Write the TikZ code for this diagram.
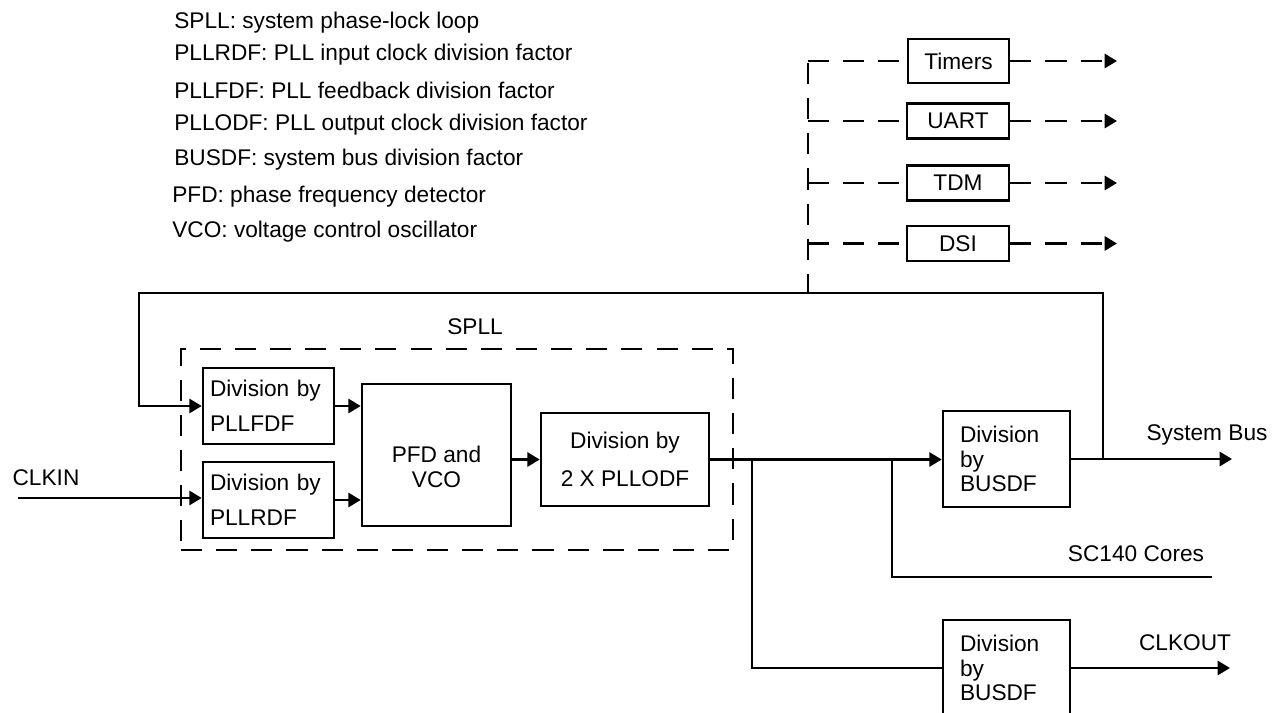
\documentclass[tikz,border=0pt]{standalone}
\usepackage{fontspec}
\setmainfont{Liberation Sans}
\usetikzlibrary{arrows.meta}

\tikzset{
  blk/.style={draw, line width=1.5pt, inner sep=0pt},
  dline/.style={line width=1.5pt, dash pattern=on 12pt off 8pt},
  arr/.style={-{Triangle[length=7pt,width=8pt]}},
  lbl/.style={inner sep=0pt}
}

\begin{document}
\begin{tikzpicture}[x=0.02cm, y=-0.02cm, line width=1.5pt,
  every node/.style={font=\fontsize{12.9}{15}\selectfont}]

\useasboundingbox (0,0) rectangle (1278,713);

% legend
\node [lbl, anchor=west] (leg1) at (173,23) {SPLL: system phase-lock loop};
\node [lbl, anchor=west] (leg2) at (173,55) {PLLRDF: PLL input clock division factor};
\node [lbl, anchor=west] (leg3) at (173,90) {PLLFDF: PLL feedback division factor};
\node [lbl, anchor=west] (leg4) at (173,125) {PLLODF: PLL output clock division factor};
\node [lbl, anchor=west] (leg5) at (173,160) {BUSDF: system bus division factor};
\node [lbl, anchor=west] (leg6) at (171,197) {PFD: phase frequency detector};
\node [lbl, anchor=west] (leg7) at (171,232) {VCO: voltage control oscillator};

% SPLL
\node [dline, draw, minimum width=11.04cm, minimum height=4.02cm] (spll) at (457,449.5) {};
\node [lbl] (splllbl) at (475,327) {SPLL};

\node [blk, minimum width=2.62cm, minimum height=1.52cm, text width=2.34cm, align=left,
  font=\fontsize{12.9}{19.8}\selectfont] (fdf) at (268.5,406) {Division by\\PLLFDF};
\node [blk, minimum width=2.62cm, minimum height=1.52cm, text width=2.34cm, align=left,
  font=\fontsize{12.9}{19.8}\selectfont] (rdf) at (268.5,500) {Division by\\PLLRDF};
\node [blk, minimum width=2.98cm, minimum height=2.84cm, align=center, text height=37.5pt,
  font=\fontsize{12.9}{14.7}\selectfont] (pfd) at (436.5,455) {PFD and\\VCO};
\node [blk, minimum width=3.36cm, minimum height=1.86cm, align=center,
  font=\fontsize{12.9}{21.5}\selectfont] (odf) at (625,459.5) {Division by\\2 X PLLODF};

% bus dividers
\node [blk, minimum width=2.54cm, minimum height=1.92cm, text width=1.86cm, align=left,
  font=\fontsize{12.9}{14}\selectfont] (bus1) at (1006.5,459) {Division\\by\\BUSDF};
\node [blk, minimum width=2.54cm, minimum height=1.92cm, text width=1.86cm, align=left,
  font=\fontsize{12.9}{14}\selectfont] (bus2) at (1006.5,668) {Division\\by\\BUSDF};

% peripherals
\node [blk, minimum width=2.02cm, minimum height=0.88cm] (timers) at (958.5,61) {Timers};
\node [blk, minimum width=2.04cm, minimum height=0.70cm] (uart) at (958,121) {UART};
\node [blk, minimum width=2.04cm, minimum height=0.70cm] (tdm) at (958,183) {TDM};
\node [blk, minimum width=2.04cm, minimum height=0.70cm] (dsi) at (958,243.5) {DSI};

\node [lbl] (clkinlbl) at (46,478) {CLKIN};
\node [lbl] (sysbuslbl) at (1207,435) {System Bus};
\node [lbl] (coreslbl) at (1136,554) {SC140 Cores};
\node [lbl] (clkoutlbl) at (1185,643) {CLKOUT};

\coordinate (clkin) at (18,498);
\coordinate (br1) at (752,459.5);
\coordinate (br2) at (892,459.5);
\coordinate (cores) at (1212,577);
\coordinate (sysbus) at (1232,459);
\coordinate (clkout) at (1230,668);
\coordinate (fbA) at (1103,459);
\coordinate (fbB) at (139,293);
\coordinate (ptop) at (808,63);
\coordinate (pbot) at (808,293);
\coordinate (ptip) at (1117,0);

\draw [arr] (clkin) -- (clkin -| rdf.west);
\draw [arr] (fdf.east) -- (fdf.east -| pfd.west);
\draw [arr] (rdf.east) -- (rdf.east -| pfd.west);
\draw [arr] (pfd.east |- odf.west) -- (odf.west);
\draw [arr] (odf.east) -- (odf.east -| bus1.west);
\draw (br1) |- (bus2.west);
\draw (br2) |- (cores);
\draw [arr] (bus1.east) -- (sysbus);
\draw [arr] (bus2.east) -- (clkout);
\draw [arr] (fbA) |- (fbB) |- (fdf.west);

% dashed peripheral feeds
\draw [dline] (ptop) -- (pbot);
\foreach \p in {timers,uart,tdm,dsi} {
  \draw [dline] (\p.west -| ptop) -- (\p.west);
  \draw [dline, arr] (\p.east) -- (\p.east -| ptip);
}

\end{tikzpicture}
\end{document}
